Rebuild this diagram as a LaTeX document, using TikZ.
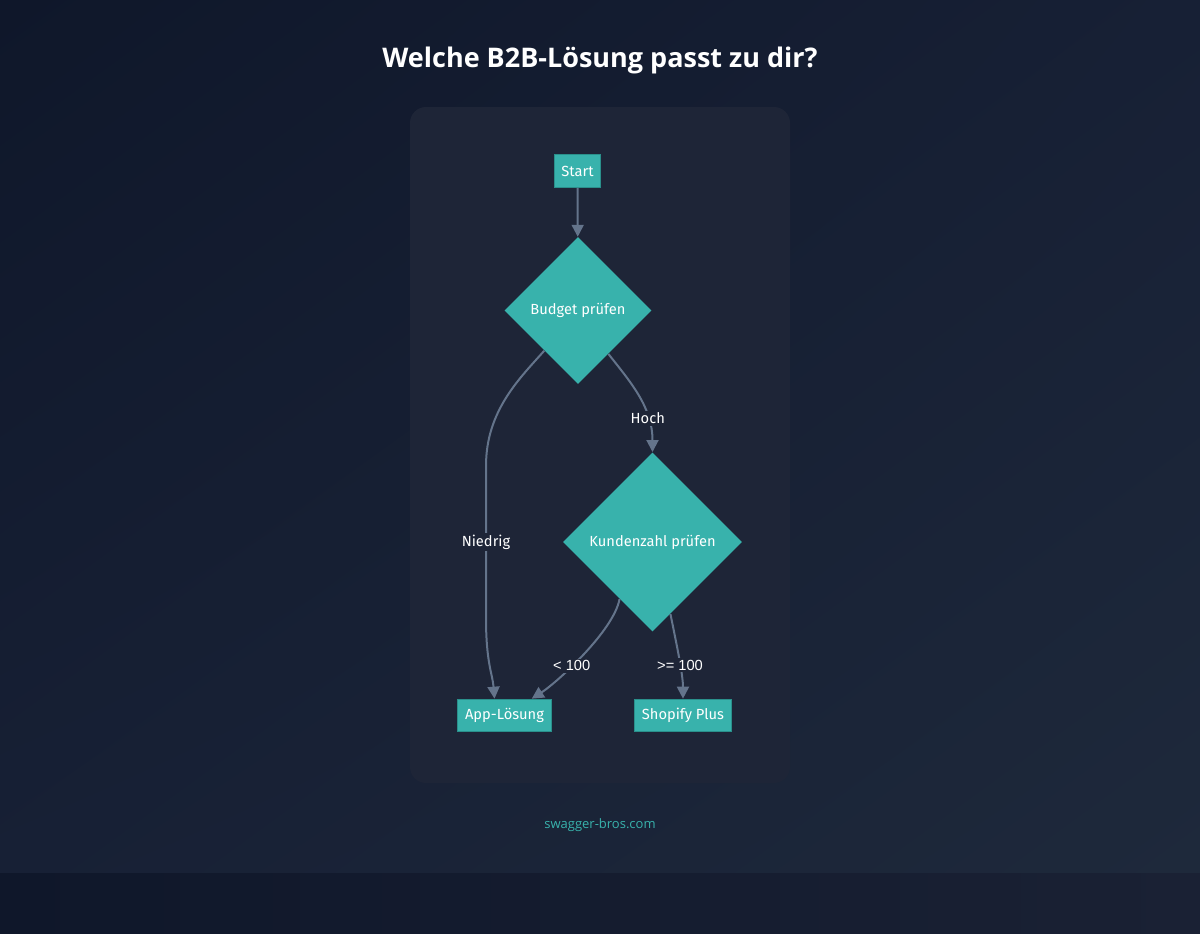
\documentclass[tikz,border=0pt]{standalone}
\usepackage{fontspec}
\setmainfont{Fira Sans}
\newfontfamily\titlefont{Open Sans}
\newfontfamily\digitfont{Liberation Sans}
\usetikzlibrary{shapes.geometric,arrows.meta,calc,shadings}

\definecolor{bgdark}{HTML}{0F172A}
\definecolor{bgmid}{HTML}{172035}
\definecolor{bglight}{HTML}{1E293B}
\definecolor{bgband}{HTML}{1A2134}
\definecolor{panel}{HTML}{1E2537}
\definecolor{teal}{HTML}{38B2AC}
\definecolor{tealedge}{HTML}{2A908B}
\definecolor{edgegrey}{HTML}{64748B}

\tikzset{every picture/.style={line width=0.75pt}}
\tikzset{
  procbox/.style={draw=tealedge, fill=teal, text=white, font=\fontsize{11}{13}\selectfont, inner xsep=5.5pt, minimum height=24.5pt},
  decision/.style={diamond, aspect=1, fill=teal, text=white, font=\fontsize{11}{13}\selectfont, inner sep=0pt},
  flow/.style={draw=edgegrey, line width=1.5pt, -{Triangle[length=9pt,width=9pt]}},
  flowlabel/.style={fill=panel, text=white, inner sep=1.5pt, font=\fontsize{11}{13}\selectfont},
}

\begin{document}
\begin{tikzpicture}[x=0.75pt,y=0.75pt,yscale=-1,xscale=1]
	\useasboundingbox (0,0) rectangle (1200,933);

	%Shape: Background
	\shade [upper left=bgdark, upper right=bgmid, lower left=bgmid, lower right=bglight] (0,0) rectangle (1200,873);
	\shade [left color=bgdark, right color=bgband] (0,873) rectangle (1200,933);
	%Shape: Panel
	\fill [panel, rounded corners=12pt] (410,107) rectangle (790,783);

	% Text Node
	\node (title) at (600,60) [text=white] {\titlefont\bfseries\fontsize{20.25}{24}\selectfont Welche B2B-Lösung passt zu dir?};

	% Flow nodes
	\node (start) at (577.5,171) [procbox] {Start};
	\node (budget) at (578,310.5) [decision, minimum width=110.25pt, minimum height=110.25pt] {Budget prüfen};
	\node (kunden) at (652.5,542) [decision, minimum width=134.25pt, minimum height=134.25pt] {Kundenzahl prüfen};
	\node (app) at (504.5,715.5) [procbox] {App-Lösung};
	\node (shopify) at (683,715.5) [procbox] {Shopify Plus};

	%Straight Lines
	\draw [flow] (start) -- (budget);
	%Curve Lines
	\coordinate (lowbend) at (486,466);
	\coordinate (lowend) at (486,618);
	\draw [flow] (budget.-130) .. controls +(-25,28) and +(0,-55) .. (lowbend) -- node [flowlabel] {Niedrig} (lowend) .. controls +(0,45) and +(-2,-25) .. ($(app.north)+(-10,0)$);
	\draw [flow] (budget.-55) .. controls +(22,28) and +(0,-45) .. (kunden.north) node [pos=0.72, flowlabel] {Hoch};
	\draw [flow] (kunden.-120) .. controls +(-6,32) and +(25,-16) .. ($(app.north east)+(-20,0)$) node [pos=0.6, flowlabel] {\digitfont < 100};
	\draw [flow] (kunden.-76) .. controls +(5,25) and +(0,-25) .. (shopify.north) node [pos=0.6, flowlabel] {\digitfont >= 100};

	% Text Node
	\node (footer) at (600,825) [text=teal] {\titlefont\fontsize{9.75}{12}\selectfont swagger-bros.com};
\end{tikzpicture}
\end{document}
